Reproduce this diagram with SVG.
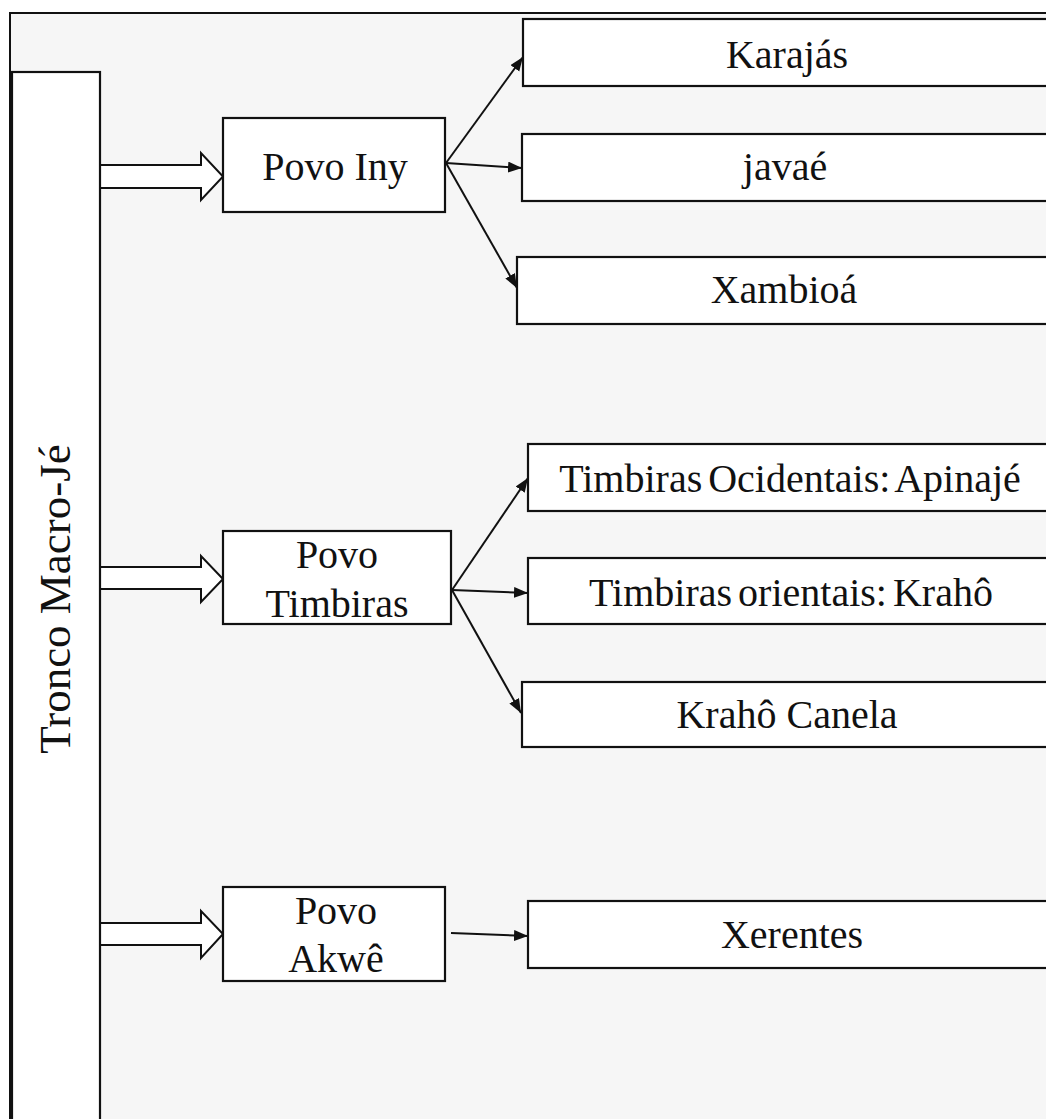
<svg xmlns="http://www.w3.org/2000/svg" width="1046" height="1119" viewBox="0 0 1046 1119">
<defs>
<marker id="ah" markerUnits="userSpaceOnUse" markerWidth="15" markerHeight="12" refX="14" refY="5.5" orient="auto">
<path d="M0,0 L14,5.5 L0,11 z" fill="#111"/>
</marker>
<style>
.box{fill:#fff;stroke:#111;stroke-width:2.2}
.t{font-family:"Liberation Serif","Times New Roman",serif;font-size:40px;fill:#111;text-anchor:middle}
.big{fill:#fff;stroke:#111;stroke-width:2}
.ln{fill:none;stroke:#111;stroke-width:2;marker-end:url(#ah)}
</style>
</defs>
<rect x="0" y="0" width="1046" height="1119" fill="#fff"/>
<rect id="frame" x="10" y="13" width="1060" height="1130" fill="#f6f6f6" stroke="#111" stroke-width="2"/>

<g id="connectors">
<polygon class="big" points="100,165 201,165 201,153 223,176.5 201,200 201,188 100,188"/>
<polygon class="big" points="100,567 201,567 201,556 223,579 201,602 201,589 100,589"/>
<polygon class="big" points="100,923 201,923 201,911 223,934 201,958 201,945 100,945"/>
<line class="ln" x1="446" y1="163" x2="523" y2="57"/>
<line class="ln" x1="446" y1="163" x2="522" y2="168"/>
<line class="ln" x1="446" y1="163" x2="517" y2="288"/>
<line class="ln" x1="452" y1="590" x2="528" y2="478"/>
<line class="ln" x1="452" y1="590" x2="528" y2="593"/>
<line class="ln" x1="452" y1="590" x2="521" y2="713"/>
<line class="ln" x1="451" y1="933" x2="528" y2="936"/>
</g>

<g id="tronco">
<rect x="12" y="72" width="88" height="1070" fill="#fff" stroke="#111" stroke-width="2.2"/>
<text class="t" style="font-size:45px" transform="translate(70,599) rotate(-90)" x="0" y="0">Tronco Macro-Jé</text>
</g>

<g id="povo-iny">
<rect class="box" x="223" y="118" width="222" height="94"/>
<text class="t" x="335" y="180">Povo Iny</text>
</g>
<g id="karajas">
<rect class="box" x="523" y="19" width="540" height="67"/>
<text class="t" x="787" y="68">Karajás</text>
</g>
<g id="javae">
<rect class="box" x="522" y="134" width="540" height="67"/>
<text class="t" x="785" y="180">javaé</text>
</g>
<g id="xambioa">
<rect class="box" x="517" y="257" width="540" height="67"/>
<text class="t" x="784" y="303">Xambioá</text>
</g>

<g id="povo-timbiras">
<rect class="box" x="223" y="531" width="228" height="93"/>
<text class="t" x="337" y="568">Povo</text>
<text class="t" x="337" y="617">Timbiras</text>
</g>
<g id="apinaje">
<rect class="box" x="528" y="444" width="540" height="67"/>
<text class="t" x="790" y="492" style="word-spacing:-4px">Timbiras Ocidentais: Apinajé</text>
</g>
<g id="kraho">
<rect class="box" x="528" y="558" width="540" height="66"/>
<text class="t" x="791" y="606" style="word-spacing:-4px">Timbiras orientais: Krahô</text>
</g>
<g id="kraho-canela">
<rect class="box" x="522" y="682" width="540" height="65"/>
<text class="t" x="787" y="728">Krahô Canela</text>
</g>

<g id="povo-akwe">
<rect class="box" x="223" y="887" width="222" height="94"/>
<text class="t" x="336" y="924">Povo</text>
<text class="t" x="336" y="972">Akwê</text>
</g>
<g id="xerentes">
<rect class="box" x="528" y="901" width="540" height="67"/>
<text class="t" x="792" y="948">Xerentes</text>
</g>
</svg>
